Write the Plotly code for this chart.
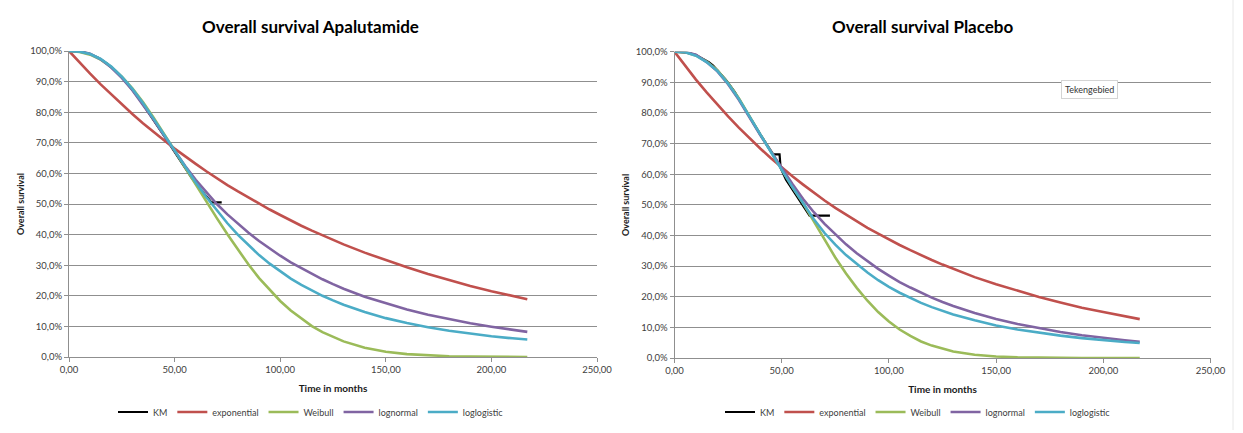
import plotly.graph_objects as go

# ---------------- data (survival in %) ----------------
months = [0, 5, 10, 15, 20, 25, 30, 35, 40, 45, 50, 55, 60, 65, 70, 75, 80, 85, 90, 95,
          100, 105, 110, 115, 120, 125, 130, 140, 150, 160, 170, 180, 190, 200, 210, 217]

# Apalutamide
apa_km_t = [0, 6, 10, 14, 18, 22, 26, 30, 34, 38, 42, 46, 50, 54, 58, 62, 66, 67.5, 72.3]
apa_km_s = [100, 99.7, 99.0, 97.7, 95.9, 93.5, 90.6, 87.3, 83.6, 79.6, 75.4, 71.3, 67.0,
            62.8, 58.6, 55.0, 51.5, 50.5, 50.5]
apa_exponential = [100, 96.2, 92.6, 89.1, 85.8, 82.5, 79.4, 76.4, 73.5, 70.8, 68.1, 65.5, 63.1,
                   60.7, 58.4, 56.2, 54.1, 52.1, 50.1, 48.2, 46.4, 44.6, 42.9, 41.3, 39.8, 38.3,
                   36.8, 34.1, 31.6, 29.3, 27.1, 25.1, 23.2, 21.5, 19.9, 18.9]
apa_weibull = [100, 99.7, 98.8, 97.2, 94.8, 91.6, 87.8, 83.3, 78.3, 73.0, 67.5, 61.9, 56.3,
               50.8, 45.4, 40.1, 35.0, 30.2, 25.8, 21.9, 18.3, 15.2, 12.5, 10.1, 8.1, 6.5,
               5.1, 3.0, 1.7, 0.95, 0.49, 0.25, 0.12, 0.05, 0.02, 0.01]
apa_lognormal = [100, 99.9, 99.1, 97.3, 94.6, 91.2, 87.2, 82.6, 77.6, 72.4, 67.3, 62.4, 57.9,
                 53.8, 50.0, 46.6, 43.5, 40.6, 37.9, 35.4, 33.1, 30.9, 29.0, 27.1, 25.4, 23.8,
                 22.3, 19.7, 17.5, 15.5, 13.8, 12.3, 11.0, 9.9, 8.9, 8.2]
apa_loglogistic = [100, 99.8, 99.0, 97.4, 94.9, 91.6, 87.6, 83.0, 77.9, 72.7, 67.3, 62.1, 57.0,
                   52.3, 47.8, 43.7, 39.9, 36.5, 33.3, 30.5, 27.9, 25.6, 23.6, 21.7, 20.0, 18.5,
                   17.1, 14.7, 12.7, 11.1, 9.7, 8.6, 7.6, 6.8, 6.1, 5.7]

# Placebo
pla_km_t = [0, 6, 10, 14, 16, 18, 22, 24, 28, 32, 36, 40, 44, 46, 49, 49.5, 52, 56, 60,
            63, 72.5]
pla_km_s = [100, 99.7, 98.9, 97.5, 96.6, 95.5, 92.6, 90.8, 87.0, 82.5, 77.6, 73.0, 68.6,
            66.5, 66.5, 62.0, 58.2, 54.0, 49.8, 46.5, 46.5]
pla_exponential = [100, 95.4, 90.9, 86.7, 82.7, 78.9, 75.2, 71.7, 68.4, 65.2, 62.2, 59.3, 56.6,
                   53.9, 51.4, 49.0, 46.8, 44.6, 42.5, 40.6, 38.7, 36.9, 35.2, 33.5, 32.0, 30.5,
                   29.1, 26.4, 24.1, 21.9, 19.9, 18.1, 16.4, 15.0, 13.6, 12.7]
pla_weibull = [100, 99.8, 98.8, 96.8, 94.0, 89.8, 84.8, 78.8, 73.0, 67.4, 61.4, 55.8, 50.5,
               44.6, 38.5, 32.8, 27.6, 22.9, 18.7, 15.0, 11.9, 9.3, 7.2, 5.4, 4.05, 2.98,
               2.15, 1.07, 0.50, 0.22, 0.09, 0.03, 0.01, 0.0, 0.0, 0.0]
pla_lognormal = [100, 99.9, 99.0, 96.6, 93.6, 89.4, 84.3, 78.5, 72.8, 67.4, 61.9, 56.8, 51.9,
                 47.6, 43.8, 40.3, 37.1, 34.2, 31.5, 29.1, 26.9, 24.8, 23.0, 21.3, 19.7, 18.3,
                 17.0, 14.7, 12.7, 11.1, 9.7, 8.5, 7.4, 6.5, 5.8, 5.3]
pla_loglogistic = [100, 99.8, 98.7, 96.6, 93.7, 89.6, 84.6, 78.7, 72.9, 67.3, 61.4, 55.8, 50.4,
                   45.3, 40.8, 37.0, 33.6, 30.6, 27.9, 25.4, 23.2, 21.3, 19.6, 18.0, 16.6, 15.3,
                   14.2, 12.3, 10.6, 9.3, 8.2, 7.3, 6.5, 5.8, 5.2, 4.9]

titles = ["Overall survival Apalutamide", "Overall survival Placebo"]
series_names = ["KM", "exponential", "Weibull", "lognormal", "loglogistic"]
series_colors = ["#000000", "#C0504D", "#9BBB59", "#8064A2", "#4BACC6"]

FONT = "Lato, 'Open Sans', sans-serif"
TXT = "#404040"
GRID = "#8f8f8f"

fig = go.Figure()

panels = [
    ("x", "y", "legend", apa_km_t, apa_km_s,
     [apa_exponential, apa_weibull, apa_lognormal, apa_loglogistic]),
    ("x2", "y2", "legend2", pla_km_t, pla_km_s,
     [pla_exponential, pla_weibull, pla_lognormal, pla_loglogistic]),
]

for xa, ya, leg, km_t, km_s, fits in panels:
    fig.add_trace(go.Scatter(x=km_t, y=km_s, mode="lines", name=series_names[0],
                             line=dict(color=series_colors[0], width=2.2),
                             xaxis=xa, yaxis=ya, legend=leg))
    for name, color, vals in zip(series_names[1:], series_colors[1:], fits):
        fig.add_trace(go.Scatter(x=months, y=vals, mode="lines", name=name,
                                 line=dict(color=color, width=2.6),
                                 xaxis=xa, yaxis=ya, legend=leg))

W, H = 1243, 433
px = lambda v: v / W
py = lambda v: 1 - v / H

xdom = [[px(69), px(597)], [px(674.5), px(1210.5)]]
ydom = [[py(357), py(51)], [py(358), py(51.7)]]
title_x = [px(310), px(922)]

axis_common = dict(
    showgrid=False, zeroline=False, showline=True, linecolor=GRID, linewidth=1,
    ticks="outside", ticklen=4, tickcolor=GRID, automargin=False,
    tickfont=dict(family=FONT, size=9.5, color=TXT),
)

layout = dict(
    width=W, height=H, margin=dict(l=0, r=0, t=0, b=0, autoexpand=False),
    paper_bgcolor="white", plot_bgcolor="white",
    separators=",.",
    font=dict(family=FONT, color=TXT),
    showlegend=True,
)

for i, (xk, yk) in enumerate([("xaxis", "yaxis"), ("xaxis2", "yaxis2")]):
    anchor_y = "y" if i == 0 else "y2"
    anchor_x = "x" if i == 0 else "x2"
    layout[xk] = dict(axis_common, domain=xdom[i], anchor=anchor_y, range=[0, 250],
                      dtick=50, tick0=0, tickformat=".2f",
                      title=dict(text="<b>Time in months</b>", standoff=10,
                                 font=dict(family=FONT, size=10, color="#1a1a1a")))
    layout[yk] = dict(axis_common, domain=ydom[i], anchor=anchor_x, range=[0, 100],
                      dtick=10, tick0=0, tickformat=".1f", ticksuffix="%",
                      showgrid=True, gridcolor=GRID, gridwidth=1,
                      title=dict(text="<b>Overall survival</b>", standoff=4,
                                 font=dict(family=FONT, size=9, color="#1a1a1a")))

leg_common = dict(orientation="h", yanchor="middle", xanchor="left",
                  font=dict(family=FONT, size=9, color=TXT),
                  bgcolor="rgba(0,0,0,0)", itemwidth=30, tracegroupgap=0)
layout["legend"] = dict(leg_common, x=px(113), y=py(412))
layout["legend2"] = dict(leg_common, x=px(720), y=py(412))

fig.update_layout(**layout)

# chart titles
for i, t in enumerate(titles):
    fig.add_annotation(text="<b>" + t + "</b>", xref="paper", yref="paper",
                       x=title_x[i], y=py(26), showarrow=False,
                       xanchor="center", yanchor="middle",
                       font=dict(family=FONT, size=17, color="#000000"))

# plot-area tooltip label
fig.add_annotation(text="Tekengebied", xref="paper", yref="paper",
                   x=px(1089), y=py(89), showarrow=False, xanchor="center", yanchor="middle",
                   font=dict(family=FONT, size=9, color="#333333"),
                   bgcolor="white", bordercolor="#d4d4d4", borderwidth=1, borderpad=3)

# faint frame edge on the right
fig.add_shape(type="line", xref="paper", yref="paper", x0=px(1233), x1=px(1233),
              y0=py(430), y1=1, line=dict(color="#e8e8e8", width=1))

fig.write_html("out.html")
